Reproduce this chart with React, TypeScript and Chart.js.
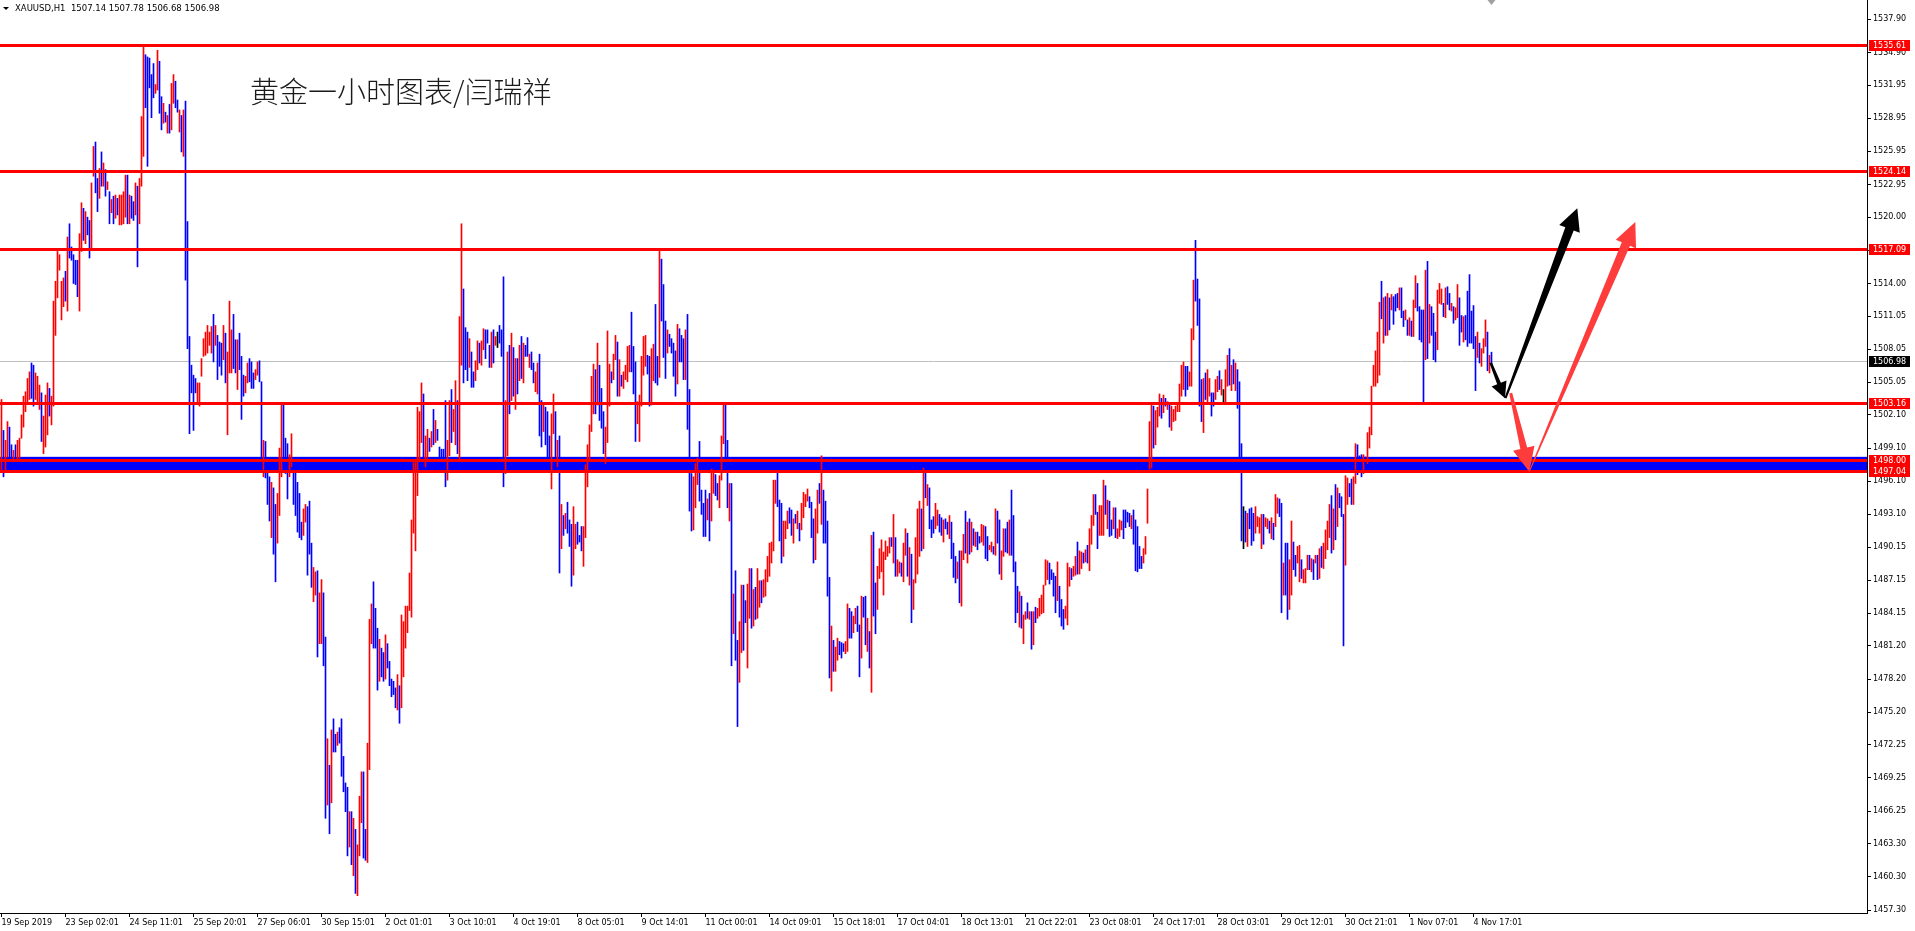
import React, { useEffect, useRef } from "react";
import { Chart, registerables } from "chart.js";

Chart.register(...registerables);

// ---- Hourly XAUUSD bars (high / low / direction r=up, b=down, k=doji) ----
const barHigh: number[] = [
  1503.5,1500.7,1499.8,1501.5,1501.0,1499.4,1498.9,1499.4,1499.8,1500.0,
  1502.1,1503.8,1504.2,1505.4,1506.0,1506.8,1506.6,1505.9,1505.6,1504.8,
  1504.1,1502.0,1503.9,1505.0,1504.5,1503.8,1512.4,1514.2,1516.9,1516.6,
  1514.2,1514.5,1515.1,1518.2,1519.4,1517.3,1516.6,1516.1,1516.1,1518.5,
  1521.3,1520.8,1520.5,1520.0,1519.7,1523.1,1526.4,1526.8,1523.5,1524.4,
  1525.9,1524.9,1524.3,1523.2,1522.3,1521.6,1521.9,1522.0,1521.7,1522.0,
  1522.0,1522.3,1523.8,1523.8,1522.0,1521.9,1521.4,1523.1,1522.8,1523.5,
  1529.1,1535.6,1534.7,1534.5,1534.4,1532.9,1533.9,1532.0,1535.1,1534.1,
  1530.9,1530.3,1529.5,1529.2,1530.2,1532.1,1532.9,1532.3,1530.6,1529.7,
  1529.2,1529.7,1530.5,1519.6,1509.2,1506.6,1505.7,1505.4,1505.0,1505.0,
  1507.2,1509.0,1509.6,1510.2,1509.6,1510.1,1511.2,1510.2,1509.3,1508.7,
  1508.6,1510.2,1509.5,1507.8,1512.4,1509.8,1511.2,1508.9,1508.9,1509.5,
  1507.4,1505.7,1505.6,1506.8,1507.2,1506.9,1505.9,1506.2,1506.9,1507.0,
  1505.1,1499.8,1499.7,1497.4,1496.5,1496.0,1495.5,1494.0,1495.0,1499.1,
  1503.2,1503.2,1500.0,1499.5,1498.5,1500.4,1498.0,1497.0,1496.0,1495.0,
  1492.4,1493.6,1494.0,1493.8,1494.3,1490.5,1488.3,1487.9,1488.0,1486.0,
  1487.2,1486.0,1482.0,1472.8,1470.4,1473.6,1474.6,1473.2,1473.4,1473.8,
  1474.6,1471.2,1468.8,1468.4,1466.2,1466.2,1465.6,1464.6,1463.2,1467.6,
  1469.8,1469.8,1464.6,1472.4,1483.6,1485.0,1487.0,1484.6,1482.8,1481.8,
  1481.0,1480.6,1482.2,1481.4,1479.8,1478.2,1478.0,1477.4,1478.6,1477.6,
  1484.0,1483.4,1484.8,1484.8,1487.8,1492.6,1497.8,1497.8,1502.8,1502.4,
  1505.0,1504.0,1500.2,1500.8,1500.0,1500.6,1502.6,1501.6,1500.8,1499.2,
  1499.0,1499.0,1503.4,1499.8,1503.4,1504.4,1502.6,1505.2,1503.4,1511.0,
  1519.4,1513.5,1510.0,1509.6,1509.0,1507.8,1506.0,1507.0,1508.8,1508.6,
  1508.8,1509.9,1509.8,1509.8,1508.4,1509.6,1509.8,1509.2,1509.6,1510.2,
  1509.8,1514.6,1503.4,1507.8,1508.4,1509.5,1508.2,1507.2,1507.2,1508.4,
  1509.2,1508.6,1508.4,1509.1,1507.6,1507.8,1506.8,1506.0,1506.8,1507.6,
  1503.4,1503.0,1502.8,1502.4,1500.2,1502.2,1504.0,1502.4,1499.8,1500.2,
  1494.0,1493.0,1493.2,1494.2,1492.6,1492.2,1493.8,1492.2,1492.4,1491.2,
  1492.0,1492.0,1497.6,1499.4,1501.2,1505.6,1506.7,1506.2,1508.6,1506.6,
  1504.5,1502.4,1501.0,1509.7,1506.7,1506.0,1507.6,1509.3,1508.7,1507.1,
  1505.7,1506.0,1506.6,1508.3,1508.4,1511.4,1508.3,1506.9,1503.3,1503.9,
  1507.4,1509.2,1509.3,1507.5,1507.4,1508.1,1508.5,1512.1,1507.4,1517.0,
  1516.2,1513.9,1510.6,1509.8,1509.4,1509.0,1508.6,1507.9,1510.3,1509.9,
  1509.3,1509.0,1509.8,1511.2,1504.4,1496.8,1496.5,1497.7,1498.2,1499.7,
  1495.3,1494.1,1495.3,1494.5,1495.0,1497.2,1497.1,1496.7,1495.9,1496.6,
  1500.2,1503.1,1503.1,1499.8,1495.9,1495.9,1485.9,1488.0,1481.7,1483.4,
  1486.7,1486.7,1485.3,1486.8,1488.2,1488.2,1486.3,1486.5,1488.2,1487.1,
  1487.1,1487.2,1488.1,1489.3,1490.5,1490.6,1496.2,1496.2,1497.1,1494.4,
  1494.1,1492.5,1492.5,1493.4,1493.7,1493.5,1492.7,1493.1,1493.4,1492.3,
  1494.1,1495.1,1494.9,1495.4,1494.7,1494.2,1492.7,1493.6,1495.3,1495.9,
  1498.4,1495.3,1494.3,1492.5,1487.4,1483.0,1481.7,1481.1,1481.9,1481.6,
  1481.5,1481.4,1481.6,1485.0,1484.6,1484.3,1483.9,1484.6,1484.8,1483.1,
  1485.7,1485.6,1485.7,1483.7,1482.5,1491.2,1491.5,1486.9,1488.4,1490.0,
  1490.8,1489.7,1490.7,1490.2,1491.0,1491.0,1493.1,1491.0,1489.0,1488.8,
  1488.7,1490.5,1491.8,1491.4,1490.1,1489.5,1487.2,1491.0,1493.6,1494.3,
  1493.6,1497.3,1497.2,1495.8,1495.5,1492.6,1492.9,1494.1,1493.5,1493.1,
  1492.8,1492.6,1492.7,1492.4,1493.0,1492.4,1490.5,1489.3,1488.8,1489.8,
  1489.8,1491.3,1493.4,1492.4,1492.7,1492.4,1491.8,1491.5,1491.5,1491.1,
  1492.2,1492.1,1492.0,1491.1,1490.3,1490.6,1490.2,1493.6,1493.4,1492.6,
  1489.8,1491.8,1491.8,1492.4,1492.6,1495.3,1493.0,1488.8,1486.6,1486.1,
  1485.7,1484.0,1484.3,1485.1,1484.3,1484.3,1484.3,1484.7,1484.6,1485.5,
  1485.8,1486.7,1489.0,1488.9,1488.7,1488.1,1487.8,1487.5,1488.8,1486.6,
  1485.4,1484.5,1484.8,1488.7,1488.3,1488.2,1488.4,1489.3,1490.6,1489.8,
  1489.7,1489.6,1489.9,1490.3,1491.8,1493.0,1494.9,1494.9,1493.3,1493.9,
  1493.9,1496.2,1495.7,1494.4,1494.3,1492.6,1493.7,1493.7,1491.8,1492.6,
  1492.5,1493.5,1493.5,1493.3,1493.2,1493.0,1493.5,1492.6,1492.0,1490.2,
  1489.3,1490.0,1491.1,1495.4,1501.5,1503.2,1502.9,1502.5,1502.8,1504.0,
  1503.6,1503.9,1503.6,1503.3,1503.2,1502.9,1502.6,1502.9,1503.2,1504.9,
  1506.6,1506.9,1506.5,1506.5,1506.0,1509.9,1514.3,1517.9,1514.4,1512.6,
  1505.3,1505.4,1505.9,1506.2,1505.4,1504.1,1504.1,1505.3,1505.6,1506.1,
  1505.3,1504.4,1506.2,1507.5,1508.1,1506.6,1507.1,1506.8,1506.2,1505.1,
  1499.5,1493.8,1493.4,1493.2,1493.6,1493.7,1493.2,1493.8,1492.9,1492.8,
  1493.1,1493.1,1492.8,1492.7,1492.5,1492.8,1492.3,1494.9,1494.6,1494.5,
  1494.1,1488.7,1490.5,1490.5,1489.0,1492.5,1490.6,1489.4,1490.2,1490.3,
  1489.0,1488.1,1488.2,1489.4,1489.4,1489.1,1489.0,1489.4,1489.4,1490.0,
  1490.2,1490.5,1491.7,1492.5,1494.0,1494.8,1493.6,1495.8,1495.5,1495.0,
  1494.7,1493.1,1496.6,1496.4,1495.9,1496.3,1496.5,1499.5,1499.4,1498.4,
  1498.5,1498.5,1498.3,1500.5,1501.0,1504.7,1506.6,1507.9,1509.6,1512.3,
  1514.2,1512.7,1512.8,1513.1,1512.7,1513.0,1512.8,1513.0,1513.1,1513.6,
  1513.6,1511.5,1511.6,1510.7,1510.9,1510.6,1512.5,1514.7,1514.0,1511.9,
  1511.6,1511.6,1515.2,1516.0,1512.1,1511.9,1511.3,1509.6,1513.4,1514.0,
  1513.5,1512.2,1513.6,1513.7,1513.1,1512.2,1511.9,1511.8,1513.9,1512.7,
  1511.1,1511.0,1511.1,1513.3,1514.8,1511.5,1512.0,1509.2,1509.6,1508.6,
  1508.1,1509.0,1510.7,1509.6,1507.5,1507.78
];

const barLow: number[] = [
  1496.9,1496.5,1496.9,1498.3,1498.0,1498.0,1498.0,1498.0,1498.0,1498.2,
  1500.0,1501.0,1502.4,1503.3,1503.5,1503.6,1502.9,1503.5,1503.3,1502.6,
  1499.7,1498.6,1499.2,1500.3,1502.0,1501.2,1502.9,1509.3,1512.7,1515.2,
  1510.7,1511.9,1512.4,1511.5,1516.3,1516.1,1514.0,1513.9,1512.8,1511.5,
  1516.9,1517.9,1517.6,1518.4,1516.3,1517.2,1523.7,1522.2,1520.5,1521.7,
  1522.8,1522.8,1521.9,1522.5,1519.4,1520.4,1519.4,1519.9,1520.2,1519.3,
  1519.3,1519.4,1520.0,1519.4,1519.4,1519.9,1519.7,1520.2,1515.5,1519.4,
  1522.8,1525.5,1529.9,1524.6,1531.7,1529.0,1530.8,1531.2,1531.5,1529.4,
  1527.9,1528.5,1528.6,1527.6,1527.6,1527.9,1530.3,1529.9,1529.5,1527.7,
  1525.9,1525.5,1514.3,1508.1,1500.4,1504.1,1500.7,1504.1,1503.3,1502.9,
  1505.6,1507.4,1507.5,1507.7,1508.4,1507.7,1506.9,1508.4,1505.3,1506.5,
  1505.7,1507.1,1505.0,1500.3,1505.9,1505.9,1506.3,1505.9,1504.4,1506.2,
  1501.7,1503.8,1504.1,1505.0,1505.1,1504.5,1504.5,1505.3,1505.7,1505.1,
  1498.0,1496.5,1496.4,1494.0,1492.5,1491.0,1489.5,1487.0,1490.5,1493.0,
  1496.5,1497.7,1496.8,1494.5,1496.5,1497.4,1494.0,1493.0,1491.5,1491.0,
  1490.8,1491.2,1492.4,1487.6,1489.5,1486.5,1485.2,1485.8,1480.2,1481.4,
  1481.4,1479.4,1465.6,1466.8,1464.2,1467.0,1471.6,1471.6,1472.2,1472.4,
  1469.4,1468.0,1466.2,1462.2,1463.0,1461.4,1460.4,1458.8,1458.6,1462.2,
  1465.2,1462.0,1461.8,1461.6,1470.0,1481.4,1481.0,1481.0,1477.2,1478.0,
  1478.4,1478.0,1478.2,1479.2,1477.6,1476.6,1476.8,1475.6,1475.4,1474.2,
  1475.6,1478.4,1481.0,1482.4,1484.4,1483.8,1491.4,1489.8,1494.8,1498.0,
  1499.6,1498.2,1497.4,1498.2,1498.8,1499.2,1499.4,1499.6,1499.8,1498.2,
  1498.2,1498.0,1495.6,1496.2,1498.4,1499.6,1500.6,1499.4,1498.6,1498.0,
  1506.6,1505.0,1506.2,1505.2,1506.4,1504.6,1504.6,1505.2,1506.2,1506.8,
  1506.6,1508.0,1507.2,1508.6,1506.4,1506.4,1506.8,1508.4,1508.2,1508.6,
  1507.4,1495.6,1496.8,1498.4,1502.2,1503.4,1503.8,1502.6,1504.0,1505.2,
  1505.4,1505.0,1507.4,1507.4,1506.4,1506.2,1505.0,1504.2,1504.0,1500.2,
  1499.2,1500.6,1499.4,1498.2,1498.2,1495.4,1500.4,1498.0,1497.4,1487.8,
  1490.0,1491.2,1491.8,1491.4,1490.2,1486.6,1487.6,1490.0,1490.4,1490.6,
  1489.8,1488.4,1491.0,1495.6,1498.0,1500.6,1502.2,1502.2,1503.0,1501.6,
  1500.9,1498.6,1497.7,1499.6,1502.9,1505.0,1505.3,1507.1,1503.8,1503.8,
  1504.7,1504.5,1505.3,1505.1,1506.0,1506.0,1504.0,1499.7,1501.3,1499.7,
  1502.9,1505.7,1506.5,1505.8,1502.9,1503.0,1505.2,1505.0,1504.8,1505.5,
  1510.6,1507.3,1505.4,1507.7,1508.3,1507.7,1505.6,1503.8,1504.9,1506.9,
  1506.9,1505.3,1505.3,1500.8,1493.4,1491.6,1491.7,1493.7,1495.8,1494.3,
  1493.1,1491.1,1491.1,1492.6,1490.7,1492.5,1495.0,1494.8,1494.4,1493.7,
  1496.2,1499.5,1497.3,1493.7,1492.5,1479.4,1482.3,1479.9,1473.9,1477.9,
  1480.6,1480.8,1483.3,1479.2,1483.7,1482.8,1483.0,1483.6,1483.7,1484.7,
  1485.1,1485.6,1485.7,1487.0,1487.5,1488.7,1489.8,1494.1,1493.8,1490.7,
  1488.7,1489.3,1490.9,1491.8,1492.3,1491.2,1490.5,1492.3,1491.8,1490.7,
  1491.7,1492.8,1493.8,1494.3,1493.7,1491.0,1488.7,1489.0,1491.4,1494.1,
  1492.2,1490.5,1490.5,1485.7,1478.3,1477.1,1478.9,1478.9,1479.9,1480.4,
  1480.1,1480.7,1480.5,1480.7,1481.9,1481.9,1482.4,1483.2,1482.5,1478.4,
  1480.1,1483.8,1481.3,1480.7,1479.2,1477.0,1483.9,1482.3,1484.5,1487.3,
  1487.9,1485.8,1489.0,1489.3,1489.6,1490.2,1488.7,1487.5,1487.5,1487.8,
  1487.5,1487.0,1489.4,1487.5,1486.7,1483.3,1484.5,1486.9,1487.7,1489.3,
  1489.8,1490.0,1494.6,1493.9,1491.8,1491.0,1491.4,1491.8,1492.1,1491.5,
  1491.2,1490.6,1491.8,1491.3,1490.9,1489.1,1487.4,1486.9,1487.3,1485.1,
  1484.8,1489.0,1489.6,1488.7,1489.5,1489.7,1490.3,1490.2,1489.9,1490.5,
  1490.6,1490.3,1489.1,1488.9,1489.9,1489.7,1489.5,1489.4,1490.5,1487.7,
  1487.2,1489.3,1489.7,1489.6,1489.4,1489.4,1487.9,1483.3,1484.2,1482.9,
  1482.8,1481.4,1483.6,1483.7,1483.6,1480.9,1481.3,1483.3,1483.7,1483.9,
  1484.1,1484.2,1486.7,1487.2,1486.8,1487.2,1485.7,1484.2,1485.3,1483.8,
  1483.0,1482.7,1483.7,1483.1,1486.6,1487.2,1487.5,1487.6,1487.7,1487.7,
  1488.2,1488.7,1488.8,1488.7,1488.0,1490.4,1492.1,1493.1,1490.0,1491.2,
  1491.2,1491.2,1493.1,1491.8,1491.1,1491.2,1491.8,1491.0,1490.9,1491.1,
  1491.7,1490.9,1491.9,1492.4,1492.0,1491.8,1490.4,1488.0,1487.9,1488.2,
  1488.2,1488.7,1489.5,1492.3,1497.2,1497.3,1499.1,1499.4,1501.0,1502.0,
  1501.8,1502.3,1502.9,1502.6,1501.0,1500.7,1501.5,1501.6,1502.4,1502.4,
  1503.8,1504.4,1503.8,1504.4,1504.7,1504.7,1508.9,1512.4,1510.2,1502.9,
  1501.5,1500.5,1503.5,1503.2,1503.8,1502.0,1502.9,1503.5,1504.2,1504.4,
  1503.9,1503.3,1503.3,1504.7,1504.8,1504.3,1504.9,1504.3,1502.7,1498.3,
  1490.7,1490.0,1490.6,1490.2,1491.8,1490.3,1490.7,1491.4,1492.0,1491.4,
  1490.0,1490.4,1492.0,1491.8,1491.4,1490.9,1490.8,1492.0,1493.2,1492.9,
  1484.2,1485.8,1485.8,1483.6,1484.5,1485.8,1488.1,1487.5,1488.7,1487.0,
  1487.3,1486.9,1486.9,1488.1,1488.1,1487.9,1487.2,1488.7,1487.2,1487.3,
  1488.3,1488.2,1489.1,1489.9,1491.0,1489.6,1489.9,1490.8,1492.0,1493.7,
  1492.9,1481.2,1488.5,1494.0,1494.7,1494.0,1494.0,1495.9,1496.7,1497.4,
  1496.5,1496.8,1497.7,1497.7,1499.1,1500.3,1504.7,1504.7,1505.0,1505.7,
  1510.8,1508.6,1509.3,1509.3,1509.8,1511.6,1510.3,1511.5,1511.8,1511.6,
  1510.9,1510.1,1510.7,1509.3,1509.3,1509.2,1509.2,1511.8,1511.5,1508.9,
  1508.7,1503.3,1507.1,1507.2,1508.6,1509.3,1507.1,1506.9,1508.0,1512.2,
  1512.1,1511.0,1510.9,1512.1,1511.6,1511.5,1510.4,1510.7,1510.9,1508.4,
  1509.6,1508.7,1508.9,1508.3,1508.6,1508.6,1508.1,1504.3,1507.3,1506.8,
  1506.5,1507.7,1508.3,1506.1,1505.9,1506.68
];

const barDir: string[] = (
  "rbrrbbrbrr" + "rrrrrbbrrr" + "brrrbrrrrr" + "rrbrbbbbbr" + "rbrbbrrbbr" +
  "brbrbrbrbr" + "rrrbrbbrbr" + "rrbbbbbrrb" + "brbrbrrbbr" + "brbbbbbbrr" +
  "rrrrrrbrbb" + "brbrrrbbrb" + "bbrrbbbrrb" + "brbbbrbbrr" + "rbbbrrbbbb" +
  "brrbbbrrbr" + "rbbrbrbbrb" + "bbbbrbrbrr" + "rbbrrrbbbr" + "bbrbbbbbrb" +
  "rrrrrrrrrr" + "rbrrbrbrbb" + "bbbrrbrrbr" + "rbbbrbbrrb" + "rrbbbrbrkb" +
  "bbrrbrbrbr" + "brbbrbbrrb" + "brbbbrrbrb" + "rbrbbbrrbb" + "brrrrrrbrb" +
  "bbrrrbrrbr" + "brrrrbbbrr" + "rrrbbrrbbr" + "bbbrbbbbrb" + "bbrbbbrrrb" +
  "bbbrbrrbbr" + "rrbbrbrbbr" + "rbbrrbrbrr" + "brrrrrrrbb" + "brrrbbrbrb" +
  "rrrrbbbrrb" + "rbbbbrbrrb" + "bbrrbbrrbb" + "rbbrbrbbrr" + "rrrrrbrbrr" +
  "brrbrbrrrr" + "brbrbbbrrb" + "brbbrbbbrb" + "rrbrbrbrbb" + "rrbbrrbrbb" +
  "rrbbrbbbbr" + "brrbrbrbrr" + "rrrrbbbbrb" + "bbrrrbrrbr" + "rbrbrrrbbr" +
  "rrbrbbrbrr" + "rbbbbrbbbb" + "brrrrrbrrr" + "brbrbrrrrr" + "rrbbrrrbbb" +
  "brbrrbbrrb" + "rkrrbrbrbb" + "bkbrbbbrrr" + "rbrrbrbrrb" + "brbbrrbbrr" +
  "brrrbrbrbr" + "brrrrbrbrb" + "bbrrbbrrbb" + "brbrrrrrrr" + "brbrbrbbbr" +
  "bbrbrbrrbb" + "bbrbrbbbrr" + "rbrbbrbrrb" + "brbbbbbbrb" + "rrrbrb"
).split("");

// ---- Axes ----
const xTickBars: number[] = [0,32,64,96,128,160,192,224,256,288,320,352,384,416,448,480,512,544,576,608,640,672,704,736];
const xTickLabels: string[] = [
  "19 Sep 2019","23 Sep 02:01","24 Sep 11:01","25 Sep 20:01","27 Sep 06:01","30 Sep 15:01",
  "2 Oct 01:01","3 Oct 10:01","4 Oct 19:01","8 Oct 05:01","9 Oct 14:01","11 Oct 00:01",
  "14 Oct 09:01","15 Oct 18:01","17 Oct 04:01","18 Oct 13:01","21 Oct 22:01","23 Oct 08:01",
  "24 Oct 17:01","28 Oct 03:01","29 Oct 12:01","30 Oct 21:01","1 Nov 07:01","4 Nov 17:01"
];
const yTickValues: number[] = [
  1537.90,1534.90,1531.95,1528.95,1525.95,1522.95,1520.00,1517.00,1514.00,1511.05,
  1508.05,1505.05,1502.10,1499.10,1496.10,1493.10,1490.15,1487.15,1484.15,1481.20,
  1478.20,1475.20,1472.25,1469.25,1466.25,1463.30,1460.30,1457.30
];
const priceMin = 1457.03;
const priceMax = 1539.65;

// ---- Annotations ----
const levelLines: number[] = [1535.61, 1524.14, 1517.09, 1503.16, 1498.0, 1497.04];
const bidPrice = 1506.98;
const zoneTop = 1498.31;
const zoneBottom = 1496.92;
const titleText = "黄金一小时图表/闫瑞祥";
const titleAnchor = { bar: 124.3, price: 1531.3 };
const headerText = "XAUUSD,H1  1507.14 1507.78 1506.68 1506.98";
const arrowFromBar: number[] = [744.6, 752.0, 754.6, 763.9];
const arrowFromPrice: number[] = [1506.83, 1503.63, 1504.07, 1496.97];
const arrowToBar: number[] = [751.75, 787.9, 763.9, 816.9];
const arrowToPrice: number[] = [1503.61, 1520.8, 1496.97, 1519.56];
const arrowColors: string[] = ["#000000", "#000000", "#ff3c3c", "#ff3c3c"];

const W = 1915;
const H = 931;
const AXIS_W = 48;
const AXIS_H = 18;
const FONT = "DejaVu Sans";

const dirColor = (d: string) => (d === "r" ? "#ff0000" : d === "b" ? "#0000ff" : "#000000");

function drawArrow(
  ctx: CanvasRenderingContext2D,
  x0: number, y0: number, x1: number, y1: number,
  w0: number, w1: number, headLen: number, headHalf: number, color: string
) {
  const dx = x1 - x0, dy = y1 - y0;
  const len = Math.hypot(dx, dy) || 1;
  const ux = dx / len, uy = dy / len;
  const nx = -uy, ny = ux;
  const bx = x1 - ux * headLen, by = y1 - uy * headLen;
  ctx.beginPath();
  ctx.moveTo(x0 + (nx * w0) / 2, y0 + (ny * w0) / 2);
  ctx.lineTo(bx + (nx * w1) / 2, by + (ny * w1) / 2);
  ctx.lineTo(bx + nx * headHalf, by + ny * headHalf);
  ctx.lineTo(x1, y1);
  ctx.lineTo(bx - nx * headHalf, by - ny * headHalf);
  ctx.lineTo(bx - (nx * w1) / 2, by - (ny * w1) / 2);
  ctx.lineTo(x0 - (nx * w0) / 2, y0 - (ny * w0) / 2);
  ctx.closePath();
  ctx.fillStyle = color;
  ctx.fill();
}

const arrowStyle = [
  { w0: 2.5, w1: 4, hl: 16, hh: 8 },
  { w0: 2, w1: 9, hl: 22, hh: 11 },
  { w0: 3, w1: 7, hl: 24, hh: 11 },
  { w0: 1, w1: 9, hl: 24, hh: 11 },
];

export default function App() {
  const ref = useRef<HTMLCanvasElement | null>(null);

  useEffect(() => {
    document.body.style.margin = "0";
    const canvas = ref.current;
    if (!canvas) return;

    const overlay = {
      id: "mt4Overlay",
      beforeDatasetsDraw(chart: any) {
        const { ctx, chartArea: a, scales } = chart;
        const ys = scales.y;
        ctx.save();
        ctx.beginPath();
        ctx.rect(a.left, a.top, a.right - a.left, a.bottom - a.top);
        ctx.clip();
        const t = ys.getPixelForValue(zoneTop);
        const b = ys.getPixelForValue(zoneBottom);
        ctx.fillStyle = "#0000ff";
        ctx.fillRect(a.left, t, a.right - a.left, b - t);
        const by = Math.round(ys.getPixelForValue(bidPrice)) + 0.5;
        ctx.strokeStyle = "#c0c0c0";
        ctx.lineWidth = 1;
        ctx.beginPath();
        ctx.moveTo(a.left, by);
        ctx.lineTo(a.right, by);
        ctx.stroke();
        ctx.restore();
      },
      afterDatasetsDraw(chart: any) {
        const { ctx, chartArea: a, scales } = chart;
        const xs = scales.x, ys = scales.y;
        ctx.save();
        ctx.beginPath();
        ctx.rect(a.left, a.top, a.right - a.left, a.bottom - a.top);
        ctx.clip();
        ctx.strokeStyle = "#ff0000";
        ctx.lineWidth = 3;
        levelLines.forEach((v) => {
          const y = Math.round(ys.getPixelForValue(v)) + 0.5;
          ctx.beginPath();
          ctx.moveTo(a.left, y);
          ctx.lineTo(a.right, y);
          ctx.stroke();
        });
        for (let i = 0; i < arrowFromBar.length; i++) {
          const s = arrowStyle[i];
          drawArrow(
            ctx,
            xs.getPixelForValue(arrowFromBar[i]), ys.getPixelForValue(arrowFromPrice[i]),
            xs.getPixelForValue(arrowToBar[i]), ys.getPixelForValue(arrowToPrice[i]),
            s.w0, s.w1, s.hl, s.hh, arrowColors[i]
          );
        }
        ctx.fillStyle = "#1a1a1a";
        ctx.font = '300 29px "Noto Sans CJK SC"';
        ctx.textAlign = "left";
        ctx.textBaseline = "middle";
        ctx.fillText(titleText, xs.getPixelForValue(titleAnchor.bar), ys.getPixelForValue(titleAnchor.price));
        ctx.fillStyle = "#000000";
        ctx.beginPath();
        ctx.moveTo(3, 7);
        ctx.lineTo(9, 7);
        ctx.lineTo(6, 10);
        ctx.closePath();
        ctx.fill();
        ctx.font = `8.5px "${FONT}"`;
        ctx.textBaseline = "middle";
        ctx.fillText(headerText, 15, 8.5);
        const sx = xs.getPixelForValue(barHigh.length - 1);
        ctx.fillStyle = "#a0a0a0";
        ctx.beginPath();
        ctx.moveTo(sx - 4, 0);
        ctx.lineTo(sx + 4, 0);
        ctx.lineTo(sx, 5);
        ctx.closePath();
        ctx.fill();
        ctx.restore();
      },
      afterDraw(chart: any) {
        const { ctx, chartArea: a, scales } = chart;
        const ys = scales.y;
        ctx.save();
        ctx.font = `8px "${FONT}"`;
        ctx.textAlign = "left";
        ctx.textBaseline = "middle";
        const box = (v: number, bg: string) => {
          const y = Math.round(ys.getPixelForValue(v));
          ctx.fillStyle = bg;
          ctx.fillRect(a.right + 2, y - 5, 41, 11);
          ctx.fillStyle = "#ffffff";
          ctx.fillText(v.toFixed(2), a.right + 6, y + 0.5);
        };
        box(bidPrice, "#000000");
        levelLines.forEach((v) => box(v, "#ff0000"));
        ctx.restore();
      },
    };

    const chart = new Chart(canvas, {
      type: "bar",
      data: {
        datasets: [
          {
            data: barHigh.map((h, i) => ({ x: i, y: [barLow[i], h] })) as any,
            backgroundColor: barDir.map(dirColor),
            borderWidth: 0,
            barThickness: 1,
          },
        ],
      },
      options: {
        responsive: false,
        animation: false,
        devicePixelRatio: 1,
        layout: { padding: 0 },
        plugins: { legend: { display: false }, tooltip: { enabled: false } },
        scales: {
          x: {
            type: "linear",
            position: "bottom",
            min: -0.75,
            max: 932.75,
            offset: false,
            afterBuildTicks: (s: any) => {
              s.ticks = xTickBars.map((v) => ({ value: v }));
            },
            afterFit: (s: any) => {
              s.height = AXIS_H;
              s.paddingLeft = 0;
              s.paddingRight = 0;
            },
            ticks: {
              autoSkip: false,
              maxRotation: 0,
              minRotation: 0,
              align: "start",
              padding: 1,
              color: "#000000",
              font: { family: FONT, size: 8 },
              callback: (v: any) => {
                const k = xTickBars.indexOf(Number(v));
                return k >= 0 ? xTickLabels[k] : "";
              },
            },
            grid: { drawOnChartArea: false, drawTicks: true, tickLength: 4, color: "#000000", offset: false },
            border: { display: true, color: "#000000", width: 1 },
          },
          y: {
            type: "linear",
            position: "right",
            min: priceMin,
            max: priceMax,
            afterBuildTicks: (s: any) => {
              s.ticks = yTickValues.map((v) => ({ value: v }));
            },
            afterFit: (s: any) => {
              s.width = AXIS_W;
              s.paddingTop = 0;
              s.paddingBottom = 0;
            },
            ticks: {
              autoSkip: false,
              padding: 2,
              color: "#000000",
              font: { family: FONT, size: 8 },
              callback: (v: any) => Number(v).toFixed(2),
            },
            grid: { drawOnChartArea: false, drawTicks: true, tickLength: 4, color: "#000000" },
            border: { display: true, color: "#000000", width: 1 },
          },
        },
      } as any,
      plugins: [overlay],
    });

    return () => chart.destroy();
  }, []);

  return (
    <div style={{ width: W, height: H, background: "#ffffff", overflow: "hidden" }}>
      <canvas ref={ref} width={W} height={H} style={{ display: "block", width: W, height: H }} />
    </div>
  );
}
